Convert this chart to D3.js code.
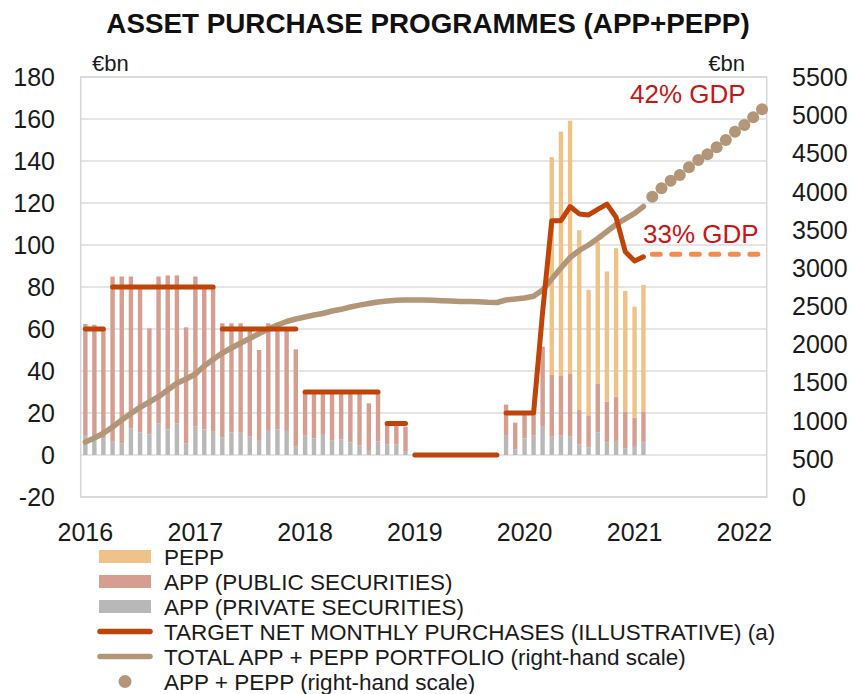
<!DOCTYPE html>
<html lang="en">
<head>
<meta charset="utf-8">
<script src="https://cdn.jsdelivr.net/npm/d3@7"></script>
<style type="text/css">
body {
	margin: 0;
	background: #fff;
	font-family: "Liberation Sans", Arial, sans-serif;
}
.tick-label {
	font-size: 25px;
	fill: #1a1a1a;
}
.legend-label {
	font-size: 22.5px;
	fill: #1a1a1a;
}
</style>
</head>
<body>
<script type="text/javascript">

// monthly net purchases, Jan 2016 - Feb 2021 (EUR bn)
var appPrivate = [
	9.5, 7, 8, 6.3, 5.5, 12.7, 10.8, 9.8, 15, 12.2, 15, 5.5,
	13.6, 12.2, 11.4, 8.3, 10.8, 10.6, 8.7, 7.1, 11.9, 12.2, 11.9, 4,
	9.2, 7.9, 10, 6.8, 7.5, 6, 4.6, 2, 6.5, 5, 5, 1.9,
	0, 0, 0, 0, 0, 0, 0, 0, 0, 0, 9.5, 2.7,
	7.9, 9.2, 13.8, 8.7, 9.2, 8.7, 5.1, 3.7, 10.8, 6, 6.7, 3.2,
	4.3, 5.9
];
var appPublic = [
	52.9, 55, 51.5, 78.7, 79.5, 72.3, 68.7, 50.5, 70, 73.3, 70.5, 55.3,
	71.4, 67.8, 68.6, 54.4, 51.9, 52.1, 51.3, 42.9, 50.8, 50.5, 48.1, 46.3,
	21.3, 22.1, 20, 23.2, 22.5, 24, 25.4, 22.6, 23.5, 10, 10, 11.6,
	0, 0, 0, 0, 0, 0, 0, 0, 0, 0, 14.5, 12.7,
	11.1, 10.3, 37.8, 29.4, 28.4, 29.9, 16.3, 15.2, 23.3, 19.4, 21.1, 17.3,
	13.5, 14.6
];
var pepp = [
	0, 0, 0, 0, 0, 0, 0, 0, 0, 0, 0, 0,
	0, 0, 0, 0, 0, 0, 0, 0, 0, 0, 0, 0,
	0, 0, 0, 0, 0, 0, 0, 0, 0, 0, 0, 0,
	0, 0, 0, 0, 0, 0, 0, 0, 0, 0, 0, 0,
	0, 0, 0, 103.7, 116.4, 120.6, 85.6, 59.7, 67.4, 62, 70.7, 57.6,
	52.8, 60.5
];

// total APP + PEPP portfolio, right-hand scale (EUR bn), Jan 2016 - Feb 2021
var portfolio = [
	720, 773, 834, 917, 1008, 1093, 1175, 1244, 1313, 1401, 1489, 1545,
	1611, 1716, 1801, 1886, 1951, 2017, 2076, 2141, 2200, 2253, 2298, 2331,
	2357, 2383, 2403, 2436, 2458, 2488, 2512, 2534, 2554, 2567, 2576, 2580,
	2580, 2580, 2576, 2571, 2567, 2560, 2560, 2558, 2550, 2547, 2580, 2593,
	2606, 2628, 2711, 2855, 2999, 3136, 3228, 3300, 3385, 3477, 3569, 3641,
	3715, 3804
];

// projected APP + PEPP, Mar 2021 - Mar 2022 (right-hand scale)
var projection = [3933, 4043, 4142, 4217, 4318, 4413, 4488, 4580, 4675, 4784, 4872, 4973, 5077];

// target net monthly purchases (illustrative), pieces of [month, value]
var targetLines = [
	[["2016-01", 60], ["2016-03", 60]],
	[["2016-04", 80], ["2017-03", 80]],
	[["2017-04", 60], ["2017-12", 60]],
	[["2018-01", 30], ["2018-09", 30]],
	[["2018-10", 15], ["2018-12", 15]],
	[["2019-01", 0], ["2019-10", 0]],
	[["2019-11", 20], ["2020-02", 20], ["2020-03", 68], ["2020-04", 111.6], ["2020-05", 111.6],
	 ["2020-06", 118.3], ["2020-07", 114.8], ["2020-08", 114.3], ["2020-09", 117], ["2020-10", 119.5],
	 ["2020-11", 113.2], ["2020-12", 96.8], ["2021-01", 92.4], ["2021-02", 94.4]]
];
var gdpLine = [["2021-03", 95.6], ["2022-03", 95.6]];

var years = ["2016", "2017", "2018", "2019", "2020", "2021", "2022"];
var leftTicks = [-20, 0, 20, 40, 60, 80, 100, 120, 140, 160, 180];
var rightTicks = [0, 500, 1000, 1500, 2000, 2500, 3000, 3500, 4000, 4500, 5000, 5500];

var legendItems = [
	{label: "PEPP", type: "rect", color: "#efc287"},
	{label: "APP (PUBLIC SECURITIES)", type: "rect", color: "#d59e91"},
	{label: "APP (PRIVATE SECURITIES)", type: "rect", color: "#b8b8b8"},
	{label: "TARGET NET MONTHLY PURCHASES (ILLUSTRATIVE) (a)", type: "line", color: "#c04308"},
	{label: "TOTAL APP + PEPP PORTFOLIO (right-hand scale)", type: "line", color: "#b39677"},
	{label: "APP + PEPP (right-hand scale)", type: "dot", color: "#b39677"}
];

var width = 856, height = 694;
var plot = {left: 80.7, right: 766.7, top: 77, bottom: 497};
var parseMonth = d3.timeParse("%Y-%m");

var svg = d3.select("body").append("svg")
	.attr("width", width)
	.attr("height", height);

var x = d3.scaleTime()
	.domain([new Date(2016, 0, 1), new Date(2022, 3, 1)])
	.range([plot.left, plot.right]);
var yL = d3.scaleLinear().domain([-20, 180]).range([plot.bottom, plot.top]);
var yR = d3.scaleLinear().domain([0, 5500]).range([plot.bottom, plot.top]);

// centre of a month band
function mid(d) {
	var next = d3.timeMonth.offset(d, 1);
	return (x(d) + x(next)) / 2;
}

var months = d3.timeMonth.range(new Date(2016, 0, 1), new Date(2021, 2, 1));
var projMonths = d3.timeMonth.range(new Date(2021, 2, 1), new Date(2022, 3, 1));

// title
svg.append("text")
	.attr("x", 428)
	.attr("y", 33)
	.attr("text-anchor", "middle")
	.style("font-size", "27.8px")
	.style("font-weight", "bold")
	.style("fill", "#111")
	.text("ASSET PURCHASE PROGRAMMES (APP+PEPP)");

// gridlines
svg.append("g").selectAll("line")
	.data(leftTicks)
	.enter().append("line")
	.attr("x1", plot.left).attr("x2", plot.right)
	.attr("y1", d => yL(d)).attr("y2", d => yL(d))
	.style("stroke", "#dcdcdc")
	.style("stroke-width", 1.5);

// frame
svg.append("rect")
	.attr("x", plot.left).attr("y", plot.top)
	.attr("width", plot.right - plot.left)
	.attr("height", plot.bottom - plot.top)
	.style("fill", "none")
	.style("stroke", "#d6d6d6")
	.style("stroke-width", 1.5);

// stacked bars
var stackData = months.map(function(m, i) {
	return {month: m, priv: appPrivate[i], pub: appPublic[i], pepp: pepp[i]};
});
var stack = d3.stack().keys(["priv", "pub", "pepp"])(stackData);
var barColors = {priv: "#b8b8b8", pub: "#d59e91", pepp: "#efc287"};
var barW = 4.4;

svg.append("g").selectAll("g")
	.data(stack)
	.enter().append("g")
	.style("fill", d => barColors[d.key])
	.selectAll("rect")
	.data(d => d)
	.enter().append("rect")
	.attr("x", d => mid(d.data.month) - barW / 2)
	.attr("width", barW)
	.attr("y", d => yL(d[1]))
	.attr("height", d => yL(d[0]) - yL(d[1]));

// total portfolio line (right scale)
var lineR = d3.line()
	.x(d => mid(d[0]))
	.y(d => yR(d[1]));
svg.append("path")
	.datum(months.map((m, i) => [m, portfolio[i]]))
	.attr("d", lineR)
	.style("fill", "none")
	.style("stroke", "#b39677")
	.style("stroke-width", 5.5)
	.style("stroke-linecap", "round")
	.style("stroke-linejoin", "round");

// target lines (left scale)
var lineL = d3.line()
	.x(d => mid(parseMonth(d[0])))
	.y(d => yL(d[1]));
svg.append("g").selectAll("path")
	.data(targetLines)
	.enter().append("path")
	.attr("d", lineL)
	.style("fill", "none")
	.style("stroke", "#c04308")
	.style("stroke-width", 5)
	.style("stroke-linecap", "round")
	.style("stroke-linejoin", "round");

// dashed 33% GDP line
svg.append("path")
	.datum(gdpLine)
	.attr("d", lineL)
	.style("fill", "none")
	.style("stroke", "#f78b4b")
	.style("stroke-width", 5)
	.style("stroke-linecap", "round")
	.style("stroke-dasharray", "8 11.5");

// projection dots
svg.append("g").selectAll("circle")
	.data(projMonths.map((m, i) => [m, projection[i]]))
	.enter().append("circle")
	.attr("cx", d => mid(d[0]))
	.attr("cy", d => yR(d[1]))
	.attr("r", 6)
	.style("fill", "#b39677");

// annotations
svg.append("text").attr("x", 630).attr("y", 103)
	.style("font-size", "26px").style("fill", "#cc1414")
	.text("42% GDP");
svg.append("text").attr("x", 643).attr("y", 243)
	.style("font-size", "26px").style("fill", "#cc1414")
	.text("33% GDP");

// unit labels
svg.append("text").attr("x", 92).attr("y", 71)
	.attr("class", "tick-label").style("font-size", "22px")
	.text("€bn");
svg.append("text").attr("x", 745).attr("y", 71)
	.attr("class", "tick-label").style("font-size", "22px")
	.attr("text-anchor", "end")
	.text("€bn");

// left axis labels
svg.append("g").selectAll("text")
	.data(leftTicks)
	.enter().append("text")
	.attr("class", "tick-label")
	.attr("x", 55)
	.attr("y", d => yL(d))
	.attr("dy", "0.36em")
	.attr("text-anchor", "end")
	.text(d => d);

// right axis labels
svg.append("g").selectAll("text")
	.data(rightTicks)
	.enter().append("text")
	.attr("class", "tick-label")
	.attr("x", 792)
	.attr("y", d => yR(d))
	.attr("dy", "0.36em")
	.text(d => d);

// year labels
svg.append("g").selectAll("text")
	.data(years)
	.enter().append("text")
	.attr("class", "tick-label")
	.attr("x", d => mid(new Date(+d, 0, 1)))
	.attr("y", 541)
	.attr("text-anchor", "middle")
	.text(d => d);

// legend
var legend = svg.append("g").attr("transform", "translate(0,556.5)");
var rows = legend.selectAll("g")
	.data(legendItems)
	.enter().append("g")
	.attr("transform", (d, i) => "translate(0," + (i * 25) + ")");

rows.filter(d => d.type == "rect").append("rect")
	.attr("x", 99).attr("y", -6.5)
	.attr("width", 52).attr("height", 13)
	.style("fill", d => d.color);
rows.filter(d => d.type == "line").append("line")
	.attr("x1", 100).attr("x2", 150)
	.attr("y1", 0).attr("y2", 0)
	.style("stroke", d => d.color)
	.style("stroke-width", 5.5)
	.style("stroke-linecap", "round");
rows.filter(d => d.type == "dot").append("circle")
	.attr("cx", 125).attr("cy", 0).attr("r", 6.5)
	.style("fill", d => d.color);
rows.append("text")
	.attr("class", "legend-label")
	.attr("x", 164)
	.attr("dy", "0.36em")
	.text(d => d.label);

</script>
</body>
</html>
